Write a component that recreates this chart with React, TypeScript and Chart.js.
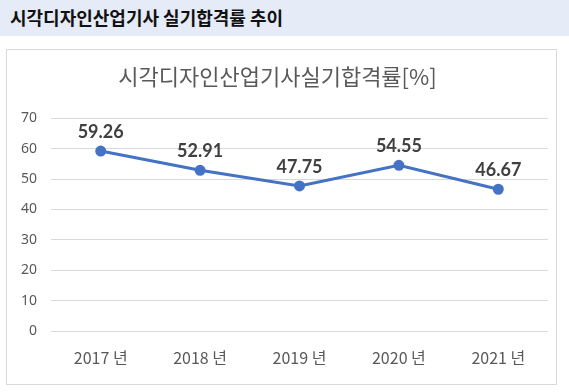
import React, { useEffect, useRef } from "react";
import { Chart, registerables } from "chart.js";

Chart.register(...registerables);

const pageTitle = "시각디자인산업기사 실기합격률 추이";
const chartTitle = "시각디자인산업기사실기합격률[%]";
const categories = ["2017 년", "2018 년", "2019 년", "2020 년", "2021 년"];
const passRates = [59.26, 52.91, 47.75, 54.55, 46.67];
const yMin = 0;
const yMax = 70;
const yStep = 10;

const labelPlugin = {
  id: "valueLabels",
  afterDatasetsDraw(chart: any) {
    const ctx = chart.ctx;
    const meta = chart.getDatasetMeta(0);
    ctx.save();
    ctx.font = "bold 18px Lato, 'Noto Sans', sans-serif";
    ctx.fillStyle = "#404040";
    ctx.textAlign = "center";
    ctx.textBaseline = "middle";
    meta.data.forEach((pt: any, i: number) => {
      ctx.fillText(passRates[i].toFixed(2), pt.x, pt.y - 19);
    });
    ctx.restore();
  },
};

export default function App() {
  const ref = useRef<HTMLCanvasElement>(null);
  useEffect(() => {
    if (!ref.current) return;
    const chart = new Chart(ref.current, {
      type: "line",
      data: {
        labels: categories,
        datasets: [
          {
            data: passRates,
            borderColor: "#4472C4",
            backgroundColor: "#4472C4",
            borderWidth: 3,
            pointRadius: 4,
            pointHoverRadius: 4,
            tension: 0,
          },
        ],
      },
      options: {
        animation: false,
        responsive: false,
        maintainAspectRatio: false,
        layout: { padding: { left: 0, right: 8, top: 0, bottom: 0 } },
        plugins: {
          legend: { display: false },
          tooltip: { enabled: false },
          title: {
            display: true,
            text: chartTitle,
            color: "#595959",
            font: { family: "'Noto Sans CJK KR', sans-serif", size: 22, weight: "normal" },
            padding: { top: 13, bottom: 29 },
          },
        },
        scales: {
          x: {
            offset: true,
            grid: { display: false, drawTicks: false },
            border: { display: false },
            ticks: {
              color: "#595959",
              font: { family: "'Noto Sans CJK KR', sans-serif", size: 16 },
              padding: 17,
              maxRotation: 0,
            },
            afterFit(scale: any) {
              scale.height = 53;
            },
          },
          y: {
            min: yMin,
            max: yMax,
            grid: { color: "#d9d9d9", drawTicks: false, lineWidth: 1 },
            border: { display: false },
            ticks: {
              stepSize: yStep,
              color: "#595959",
              font: { family: "'Noto Sans', sans-serif", size: 14 },
              padding: 14,
            },
            afterFit(scale: any) {
              scale.width = 44;
            },
          },
        },
      },
      plugins: [labelPlugin],
    });
    return () => chart.destroy();
  }, []);

  return (
    <div style={{ position: "absolute", left: 0, top: 0, width: 569, height: 392, background: "#fff" }}>
      <div
        style={{
          position: "absolute",
          left: 0,
          top: 0,
          width: 569,
          height: 36,
          background: "#e5ebf7",
          fontFamily: "'Noto Sans CJK KR', sans-serif",
          fontWeight: "bold",
          fontSize: 18,
          lineHeight: "34px",
          color: "#111",
          paddingLeft: 10,
          boxSizing: "border-box",
        }}
      >
        {pageTitle}
      </div>
      <div
        style={{
          position: "absolute",
          left: 6,
          top: 49,
          width: 551,
          height: 336,
          border: "1px solid #d9d9d9",
          boxSizing: "border-box",
        }}
      >
        <canvas ref={ref} width={549} height={334} style={{ display: "block" }} />
      </div>
    </div>
  );
}
